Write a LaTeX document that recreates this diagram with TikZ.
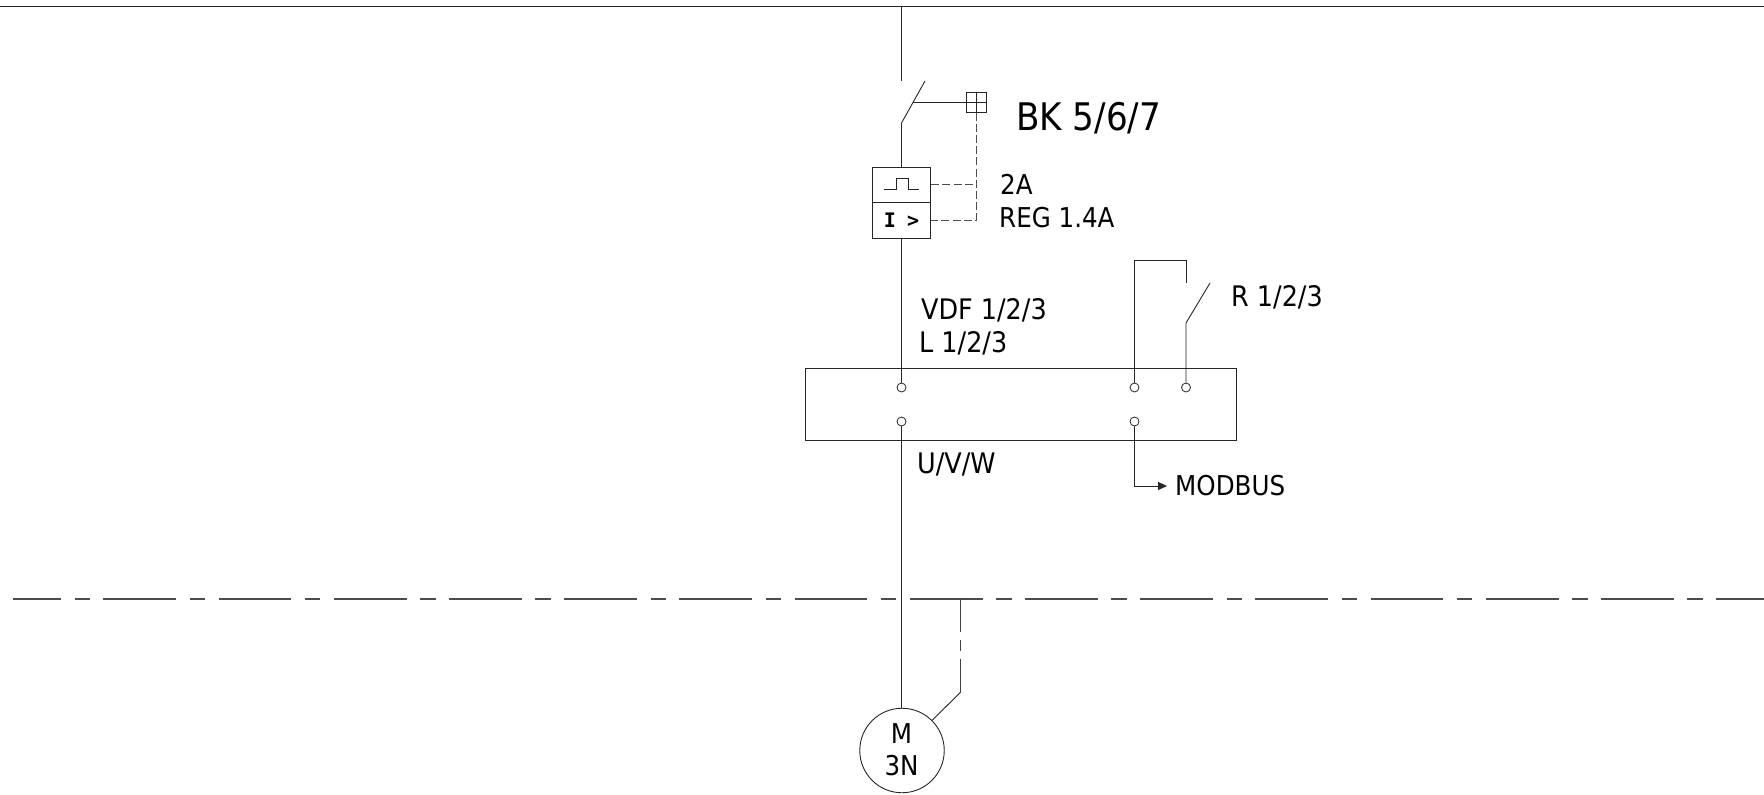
\documentclass[tikz,border=0pt]{standalone}
\usepackage{fontspec}
\setmainfont[FakeStretch=0.9]{DejaVu Sans}
\newfontfamily\monob{DejaVu Sans Mono Bold}
\usetikzlibrary{arrows.meta}
\tikzset{
  wire/.style={draw=black!85,line width=0.9pt},
  ctrl/.style={draw=black!70,line width=0.9pt,dash pattern=on 8pt off 3.2pt},
  term/.style={circle,draw=black!85,fill=white,line width=0.8pt,minimum size=9pt,inner sep=0pt},
  lab/.style={anchor=west,inner sep=0pt,text=black,font=\fontsize{27.3}{30}\selectfont},
  slab/.style={anchor=west,inner sep=0pt,text=black,font=\fontsize{28.3}{30}\selectfont},
  biglab/.style={anchor=west,inner sep=0pt,text=black,font=\fontsize{38}{42}\selectfont},
  cell/.style={draw=black!85,line width=0.9pt,fill=white,minimum width=58.5pt,inner sep=0pt,anchor=north},
}
\begin{document}
\begin{tikzpicture}[x=1pt,y=-1pt]
\useasboundingbox (0,0) rectangle (1764,795);
% bus
\coordinate (busL) at (0,6); \coordinate (busR) at (1764,6);
\draw[wire] (busL) -- (busR);
% dash-dot earth line
\coordinate (peL) at (13,599); \coordinate (peR) at (1764,599);
\draw[draw=black!70,line width=1.1pt,dash pattern=on 72.8pt off 13.5pt on 15.4pt off 13.5pt,dash phase=24.8pt] (peL) -- (peR);
% switch
\coordinate (busTap) at (901.5,6);
\coordinate (swTop) at (901.5,81);
\coordinate (swBot) at (901.5,123);
\coordinate (swTip) at (925,81);
\coordinate (swMid) at (913,102.5);
\draw[wire] (busTap) -- (swTop);
\draw[wire] (swBot) -- (swTip);
% aux square
\node[draw=black!85,line width=0.8pt,minimum size=19.5pt,inner sep=0pt] (aux) at (976.5,102.5) {};
\draw[draw=black!85,line width=0.7pt] (aux.north) -- (aux.south) (aux.west) -- (aux.east);
\draw[wire] (swMid) -- (aux.west);
% breaker
\node[cell,minimum height=35pt] (therm) at (901.5,167) {};
\node[cell,minimum height=36pt] (mag) at (901.5,202) {};
\draw[wire] (swBot) -- (therm.north);
\draw[draw=black!85,line width=0.8pt] (884.3,189.7) -- (896,189.7) -- (896,178) -- (908,178) -- (908,189.7) -- (919,189.7);
\node[inner sep=0pt,text=black,font=\monob\fontsize{20}{22}\selectfont] (ig) at (901.5,220.5) {I\kern-1pt\ >};
% control dashed
\coordinate (ctrlA) at (976.5,184.5);
\coordinate (ctrlB) at (976.5,220);
\draw[ctrl] (aux.south) -- (ctrlB) -- (ctrlB -| mag.east);
\draw[ctrl] (therm.east |- ctrlA) -- (ctrlA);
% drive
\node[draw=black!85,line width=0.9pt,minimum width=431pt,minimum height=72pt,inner sep=0pt] (vdf) at (1021,404) {};
\node[term] (t1) at (901.5,387.5) {};
\node[term] (t2) at (1134.5,387.5) {};
\node[term] (t3) at (1186,387.5) {};
\node[term] (t4) at (901.5,421.5) {};
\node[term] (t5) at (1134.5,421.5) {};
\draw[wire] (mag.south) -- (t1.north);
% relay
\coordinate (rA) at (1134.5,260); \coordinate (rB) at (1186,260);
\coordinate (rC) at (1186,283); \coordinate (rD) at (1186,323); \coordinate (rE) at (1210,283);
\draw[wire] (t2.north) -- (rA) -- (rB) -- (rC);
\draw[wire] (t3.north) -- (rD) -- (rE);
% modbus
\coordinate (mbC) at (1134.5,486); \coordinate (mbT) at (1167,486);
\draw[wire,-{Stealth[length=9pt,width=8pt,inset=0pt]}] (t5.south) -- (mbC) -- (mbT);
% motor
\node[circle,draw=black!85,line width=0.9pt,minimum size=84.5pt,inner sep=0pt] (mot) at (902,750.5) {};
\node[inner sep=0pt,text=black,font=\fontsize{27.3}{30}\selectfont] (mM) at (901.5,734) {M};
\node[inner sep=0pt,text=black,font=\fontsize{27.3}{30}\selectfont] (m3) at (901.5,766) {3N};
\draw[wire] (t4.south) -- (mot.north -| t4.south);
\coordinate (peT) at (960.7,599); \coordinate (peB) at (960.7,692);
\draw[draw=black!75,line width=0.9pt,dash pattern=on 32.7pt off 8.3pt on 10.7pt off 8.3pt on 60pt] (peT) -- (peB);
\draw[wire] (peB) -- (mot.45);
% labels
\node[biglab] (lbk) at (1016,118) {BK 5/6/7};
\node[lab] (l2a) at (1000,184) {2A};
\node[lab] (lreg) at (999,218) {REG 1.4A};
\node[slab] (lvdf) at (921,310) {VDF 1/2/3};
\node[slab] (ll) at (919,343.5) {L 1/2/3};
\node[slab] (lr) at (1231,297) {R 1/2/3};
\node[slab] (luvw) at (917,464) {U/V/W};
\node[lab] (lmb) at (1175,486) {MODBUS};
\end{tikzpicture}
\end{document}
